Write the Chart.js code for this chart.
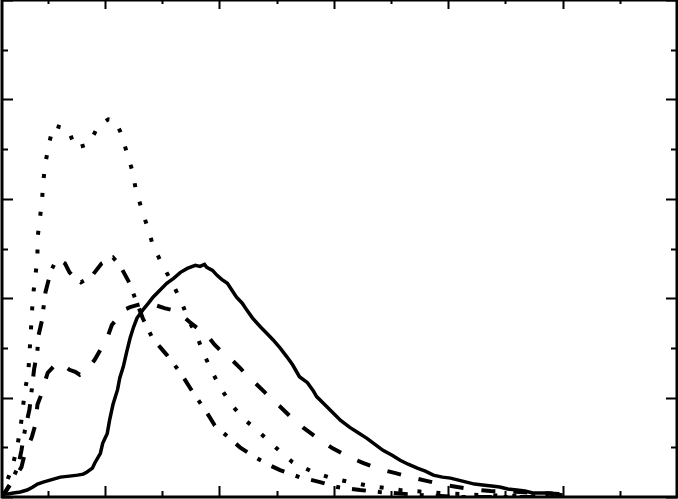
<!DOCTYPE html>
<html>
<head>
<meta charset="utf-8">
<script src="https://cdn.jsdelivr.net/npm/chart.js@4.4.1/dist/chart.umd.min.js"></script>
<style>
  html, body { margin: 0; padding: 0; background: #fff; }
  canvas { display: block; }
</style>
</head>
<body>
<canvas id="distChart" width="678" height="499"></canvas>
<script>
// values (unlabelled axes: x majors every 1, y majors every 1)
const solidX = [0.10, 0.15, 0.20, 0.26, 0.32, 0.37, 0.41, 0.46, 0.52, 0.61, 0.69, 0.76, 0.81, 0.84, 0.89, 0.91, 0.96, 0.98, 1.02, 1.04, 1.07, 1.11, 1.13, 1.16, 1.19, 1.22, 1.25, 1.28, 1.33, 1.38, 1.42, 1.48, 1.54, 1.60, 1.66, 1.72, 1.79, 1.83, 1.87, 1.89, 1.94, 1.98, 2.02, 2.07, 2.11, 2.15, 2.20, 2.24, 2.29, 2.36, 2.42, 2.47, 2.53, 2.59, 2.64, 2.70, 2.77, 2.82, 2.85, 2.92, 2.99, 3.06, 3.14, 3.21, 3.29, 3.36, 3.43, 3.51, 3.58, 3.65, 3.73, 3.80, 3.87, 3.95, 4.02, 4.09, 4.16, 4.23, 4.30, 4.38, 4.45, 4.52, 4.60, 4.67, 4.74, 4.82, 4.89, 4.94, 5.00];
const solidY = [0.03, 0.03, 0.04, 0.05, 0.07, 0.10, 0.13, 0.15, 0.17, 0.20, 0.21, 0.22, 0.23, 0.25, 0.29, 0.34, 0.44, 0.54, 0.64, 0.77, 0.93, 1.08, 1.20, 1.31, 1.46, 1.60, 1.71, 1.80, 1.88, 1.95, 2.01, 2.08, 2.15, 2.20, 2.26, 2.30, 2.33, 2.32, 2.34, 2.31, 2.28, 2.23, 2.19, 2.15, 2.08, 2.01, 1.95, 1.88, 1.80, 1.71, 1.64, 1.58, 1.50, 1.41, 1.33, 1.21, 1.15, 1.07, 1.01, 0.93, 0.85, 0.77, 0.70, 0.65, 0.59, 0.53, 0.47, 0.42, 0.37, 0.33, 0.29, 0.26, 0.22, 0.20, 0.19, 0.17, 0.15, 0.13, 0.12, 0.11, 0.10, 0.08, 0.07, 0.06, 0.04, 0.04, 0.04, 0.03, 0.02];

const dashedX = [0.10, 0.17, 0.22, 0.27, 0.30, 0.36, 0.39, 0.41, 0.45, 0.48, 0.50, 0.54, 0.58, 0.63, 0.69, 0.74, 0.78, 0.82, 0.85, 0.91, 0.96, 1.02, 1.06, 1.11, 1.16, 1.22, 1.28, 1.35, 1.44, 1.52, 1.59, 1.67, 1.74, 1.83, 1.89, 1.96, 2.03, 2.09, 2.18, 2.25, 2.31, 2.40, 2.46, 2.53, 2.62, 2.73, 2.86, 2.99, 3.12, 3.26, 3.40, 3.54, 3.67, 3.82, 3.93, 4.08, 4.19, 4.37, 4.63, 4.80, 5.00];
const dashedY = [0.00, 0.12, 0.21, 0.30, 0.44, 0.60, 0.72, 0.93, 1.05, 1.18, 1.25, 1.30, 1.35, 1.33, 1.28, 1.26, 1.23, 1.26, 1.29, 1.38, 1.48, 1.60, 1.73, 1.80, 1.88, 1.91, 1.93, 1.95, 1.93, 1.90, 1.88, 1.83, 1.76, 1.68, 1.63, 1.53, 1.45, 1.40, 1.30, 1.21, 1.15, 1.05, 0.98, 0.91, 0.81, 0.70, 0.59, 0.49, 0.41, 0.34, 0.28, 0.24, 0.20, 0.16, 0.13, 0.10, 0.08, 0.06, 0.05, 0.04, 0.03];

const dottedX = [0.10, 0.13, 0.19, 0.23, 0.26, 0.28, 0.30, 0.33, 0.34, 0.35, 0.36, 0.37, 0.39, 0.41, 0.41, 0.43, 0.45, 0.46, 0.48, 0.51, 0.55, 0.61, 0.68, 0.74, 0.80, 0.86, 0.94, 1.03, 1.09, 1.14, 1.19, 1.24, 1.27, 1.32, 1.37, 1.42, 1.50, 1.59, 1.67, 1.73, 1.80, 1.86, 1.94, 2.02, 2.11, 2.22, 2.36, 2.50, 2.64, 2.82, 2.98, 3.14, 3.32, 3.58, 3.93, 4.28, 4.63, 5.00];
const dottedY = [0.00, 0.12, 0.30, 0.49, 0.68, 0.87, 1.07, 1.25, 1.44, 1.63, 1.82, 2.01, 2.21, 2.40, 2.60, 2.79, 2.98, 3.17, 3.36, 3.55, 3.74, 3.72, 3.70, 3.51, 3.53, 3.55, 3.73, 3.80, 3.79, 3.66, 3.47, 3.28, 3.09, 2.90, 2.72, 2.53, 2.34, 2.15, 1.96, 1.78, 1.63, 1.45, 1.25, 1.08, 0.92, 0.78, 0.64, 0.49, 0.35, 0.25, 0.19, 0.15, 0.11, 0.07, 0.04, 0.02, 0.01, 0.00];

const dashDotX = [0.10, 0.17, 0.24, 0.27, 0.30, 0.34, 0.36, 0.38, 0.41, 0.42, 0.45, 0.46, 0.48, 0.50, 0.53, 0.56, 0.61, 0.65, 0.69, 0.74, 0.79, 0.84, 0.89, 0.97, 1.03, 1.07, 1.11, 1.15, 1.22, 1.26, 1.33, 1.41, 1.48, 1.54, 1.66, 1.77, 1.89, 1.96, 2.03, 2.11, 2.18, 2.27, 2.36, 2.44, 2.53, 2.70, 2.88, 3.03, 3.23, 3.40, 3.75, 4.10, 5.00];
const dashDotY = [0.00, 0.13, 0.30, 0.47, 0.67, 0.88, 1.08, 1.28, 1.48, 1.63, 1.78, 1.88, 2.06, 2.15, 2.28, 2.35, 2.38, 2.35, 2.26, 2.20, 2.16, 2.19, 2.23, 2.35, 2.39, 2.41, 2.36, 2.29, 2.14, 2.01, 1.80, 1.61, 1.51, 1.43, 1.25, 1.05, 0.85, 0.72, 0.65, 0.57, 0.50, 0.43, 0.37, 0.32, 0.27, 0.20, 0.15, 0.10, 0.07, 0.05, 0.02, 0.00, 0.00];

const xMajorTicks = [1, 2, 3, 4, 5, 6];
const xMinorTicks = [0.5, 1.5, 2.5, 3.5, 4.5, 5.5];
const yMajorTicks = [0, 1, 2, 3, 4, 5];
const yMinorTicks = [0.5, 1.5, 2.5, 3.5, 4.5];

const toPoints = (xs, ys) => xs.map((x, i) => ({ x: x, y: ys[i] }));

// box frame with inward ticks on all four sides
const framePlugin = {
  id: 'frame',
  afterDraw(chart) {
    const { ctx, chartArea: a, scales } = chart;
    const xs = scales.x, ys = scales.y;
    ctx.save();
    ctx.strokeStyle = '#000';
    ctx.lineWidth = 3;
    ctx.strokeRect(a.left, a.top, a.right - a.left, a.bottom - a.top);
    ctx.lineWidth = 2;
    const drawX = (vals, len) => vals.forEach(v => {
      const p = Math.round(xs.getPixelForValue(v)) + 0.5;
      ctx.beginPath();
      ctx.moveTo(p, a.bottom); ctx.lineTo(p, a.bottom - len);
      ctx.moveTo(p, a.top); ctx.lineTo(p, a.top + len - 2);
      ctx.stroke();
    });
    const drawY = (vals, len) => vals.forEach(v => {
      const p = Math.round(ys.getPixelForValue(v)) + 0.5;
      ctx.beginPath();
      ctx.moveTo(a.left, p); ctx.lineTo(a.left + len, p);
      ctx.moveTo(a.right, p); ctx.lineTo(a.right - len, p);
      ctx.stroke();
    });
    drawX(xMajorTicks, 11);
    drawX(xMinorTicks, 6);
    drawY(yMajorTicks, 11);
    drawY(yMinorTicks, 6);
    ctx.restore();
  }
};

const line = (label, xs, ys, dash, width) => ({
  label: label,
  data: toPoints(xs, ys),
  showLine: true,
  borderColor: '#000',
  backgroundColor: '#000',
  borderWidth: width,
  borderDash: dash,
  borderCapStyle: 'butt',
  pointRadius: 0,
  tension: 0,
  fill: false
});

new Chart(document.getElementById('distChart').getContext('2d'), {
  type: 'scatter',
  data: {
    datasets: [
      line('dotted', dottedX, dottedY, [4, 15], 4),
      line('dash-dot', dashDotX, dashDotY, [14, 12, 4, 12], 4),
      line('dashed', dashedX, dashedY, [14, 18], 4),
      line('solid', solidX, solidY, [], 3.5)
    ]
  },
  options: {
    responsive: false,
    animation: false,
    devicePixelRatio: 1,
    layout: { padding: { left: 2, right: 1, top: 0, bottom: 2 } },
    scales: {
      x: { type: 'linear', min: 0.1, max: 6, display: false },
      y: { type: 'linear', min: 0, max: 5, display: false }
    },
    plugins: {
      legend: { display: false },
      tooltip: { enabled: false }
    }
  },
  plugins: [framePlugin]
});
</script>
</body>
</html>
